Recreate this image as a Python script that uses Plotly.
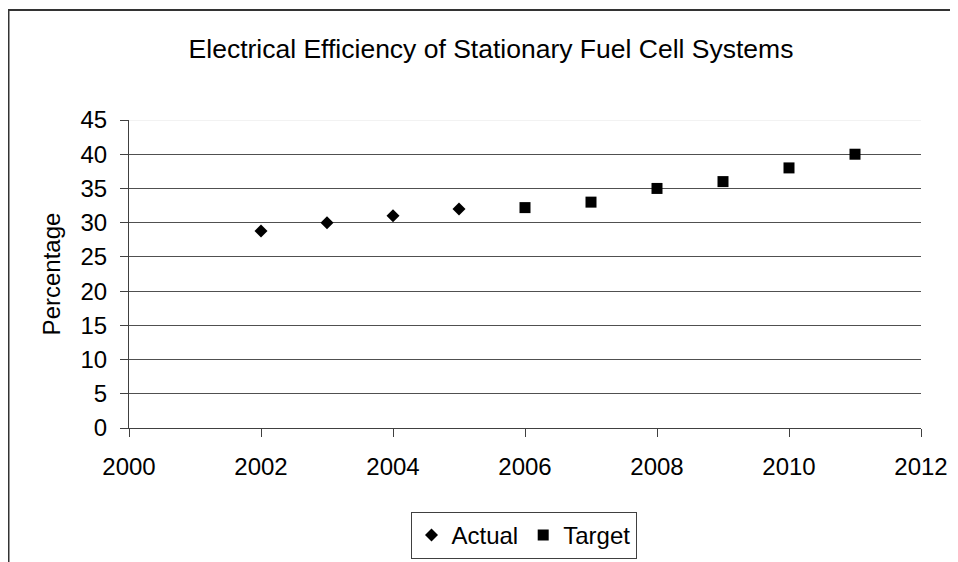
import plotly.graph_objects as go

actual_years = [2002, 2003, 2004, 2005]
actual_vals = [28.8, 30, 31, 32]
target_years = [2006, 2007, 2008, 2009, 2010, 2011]
target_vals = [32.2, 33, 35, 36, 38, 40]

x_ticks = [2000, 2002, 2004, 2006, 2008, 2010, 2012]
y_ticks = [0, 5, 10, 15, 20, 25, 30, 35, 40, 45]
grid_vals = [5, 10, 15, 20, 25, 30, 35, 40]

FONT = "Liberation Sans, Arial, sans-serif"
fs = 24

# page has 8px body margin; figure is sized to fill the rest of the window
W, H = 950, 554
fig = go.Figure()
fig.add_trace(go.Scatter(x=actual_years, y=actual_vals, mode="markers", name="Actual",
                         marker=dict(symbol="diamond", size=10, color="black")))
fig.add_trace(go.Scatter(x=target_years, y=target_vals, mode="markers", name="Target",
                         marker=dict(symbol="square", size=11, color="black")))
# invisible trace on overlay axis to carry the gridlines
fig.add_trace(go.Scatter(x=[2000], y=[0], yaxis="y2", mode="markers",
                         marker=dict(opacity=0), showlegend=False, hoverinfo="skip"))

fig.update_layout(
    width=W, height=H,
    paper_bgcolor="white", plot_bgcolor="white",
    margin=dict(l=121, r=37, t=112, b=134, autoexpand=False),
    font=dict(family=FONT, size=fs, color="black"),
    title=dict(text="Electrical Efficiency of Stationary Fuel Cell Systems",
               x=(491 - 8) / W, xref="container", xanchor="center",
               y=1 - (49 - 8) / H, yanchor="middle",
               font=dict(size=26.5, family=FONT, color="black")),
    xaxis=dict(range=[2000, 2012], tickvals=x_ticks, showgrid=False, zeroline=False,
               showline=True, linecolor="#404040", linewidth=1,
               ticks="outside", ticklen=8, tickcolor="#404040",
               ticklabelstandoff=9, tickfont=dict(size=fs)),
    yaxis=dict(range=[0, 45], tickvals=y_ticks, showgrid=False, zeroline=False,
               showline=True, linecolor="#404040", linewidth=1,
               ticks="outside", ticklen=8, tickcolor="#404040",
               ticklabelstandoff=8, tickfont=dict(size=fs),
               title=dict(text="Percentage", font=dict(size=fs), standoff=13)),
    yaxis2=dict(range=[0, 45], overlaying="y", tickvals=grid_vals, showticklabels=False,
                showgrid=True, gridcolor="#505050", gridwidth=1.3, zeroline=False,
                showline=False),
    legend=dict(orientation="h", xref="container", yref="container",
                x=(523.5 - 8) / W, xanchor="center",
                y=1 - (512 - 8) / H, yanchor="top",
                bordercolor="#404040", borderwidth=1, font=dict(size=fs)),
    showlegend=True,
)
# light top gridline at 45
fig.add_shape(type="line", xref="paper", x0=0, x1=1, yref="y", y0=45, y1=45,
              line=dict(color="#e6e6e6", width=1), layer="below")
# chart border (outer frame)
fig.add_shape(type="rect", xref="paper", yref="paper",
              x0=(8.5 - 129) / 792, x1=(1000 - 129) / 792,
              y0=-0.6, y1=(428 - 10) / 308,
              line=dict(color="#333333", width=2), fillcolor="rgba(0,0,0,0)", layer="below")

fig.write_html("out.html")
